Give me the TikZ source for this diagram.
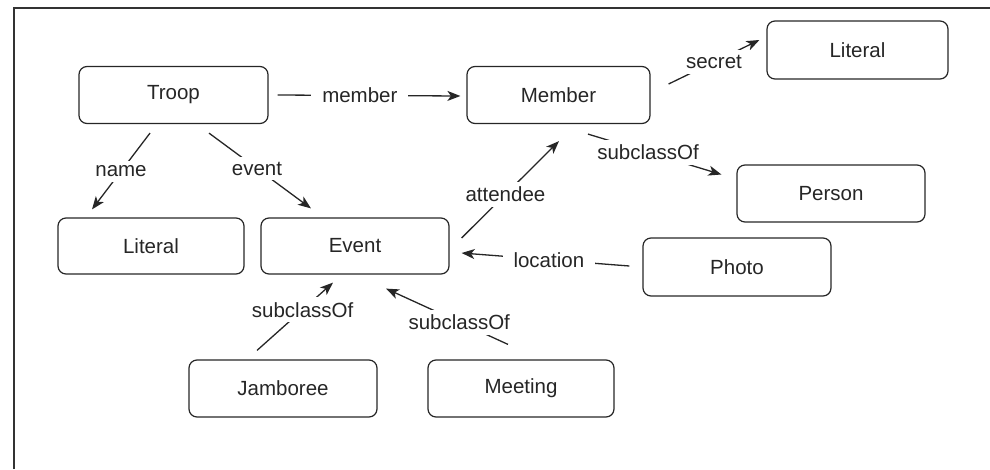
\documentclass[tikz,border=0pt]{standalone}
\usepackage{fontspec}
\setmainfont{Liberation Sans}
\usetikzlibrary{arrows.meta,calc}
\tikzset{
  classbox/.style={draw=black!85, rounded corners=8pt, line width=1.2pt,
    minimum height=57pt, inner sep=0pt, text=black!85,
    font=\fontsize{20.5}{24}\selectfont},
  lbl/.style={fill=white, inner xsep=11pt, inner ysep=5pt, text=black!85,
    font=\fontsize{20.5}{24}\selectfont},
  conn/.style={draw=black!85, line width=1.3pt, -{Stealth[length=13pt,width=10pt,inset=3.5pt]}},
}
\begin{document}
\begin{tikzpicture}[x=1pt,y=-1pt]
\useasboundingbox (0,0) rectangle (990,469);
% frame
\draw[black!80, line width=1.4pt] (14,469) -- (14,8) -- (990,8);

% classes
\node[classbox, minimum width=189pt] (troop)  at (173.5,95)  {Troop};
\node[classbox, minimum width=183pt] (member) at (558.5,95)  {Member};
\node[classbox, minimum width=181pt, minimum height=58pt] (lit2) at (857.5,50) {Literal};
\node[classbox, minimum width=188pt] (person) at (831,193.5) {Person};
\node[classbox, minimum width=186pt, minimum height=56pt] (lit1) at (151,246) {Literal};
\node[classbox, minimum width=188pt, minimum height=56pt] (event) at (355,246) {Event};
\node[classbox, minimum width=188pt, minimum height=58pt] (photo) at (737,267) {Photo};
\node[classbox, minimum width=188pt] (jam)  at (283,388.5) {Jamboree};
\node[classbox, minimum width=186pt] (meet) at (521,388.5) {Meeting};

% properties
\draw[conn] ($(troop.east)+(9,0)$) -- node[lbl,pos=.45]{member} ($(member.west)+(-6,1)$);
\draw[conn] ($(troop.south)+(-23.5,9)$) -- node[lbl]{name} ($(lit1.north)+(-59,-8)$);
\draw[conn] ($(troop.south)+(35.5,9)$) -- node[lbl,pos=.47]{event} ($(event.north)+(-44,-9)$);
\draw[conn] ($(member.east)+(18,-11)$) -- node[lbl]{secret} ($(lit2.west)+(-7,-10)$);
\draw[conn] ($(member.south)+(29.5,10)$) -- node[lbl,pos=.45]{subclassOf} ($(person.west)+(-15,-19)$);
\draw[conn] ($(event.east)+(12,-8)$) -- node[lbl,pos=.45]{attendee} ($(member.south)+(0.5,17)$);
\draw[conn] ($(photo.west)+(-13,-1)$) -- node[lbl,pos=.48]{location} ($(event.east)+(12,7)$);
\draw[conn] ($(jam.north)+(-26,-9)$) -- node[lbl,pos=.6]{subclassOf} ($(event.south)+(-22,8)$);
\draw[conn] ($(meet.north)+(-13,-15)$) -- node[lbl,pos=.4]{subclassOf} ($(event.south)+(31,14)$);
\end{tikzpicture}
\end{document}
